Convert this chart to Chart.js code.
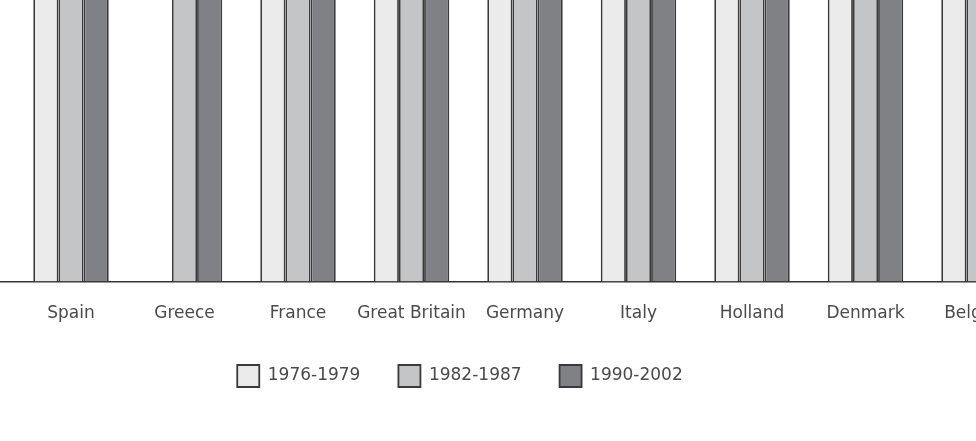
<!DOCTYPE html>
<html>
<head>
<meta charset="utf-8">
<script src="https://cdn.jsdelivr.net/npm/chart.js@4/dist/chart.umd.min.js"></script>
<style>
  html, body { margin: 0; padding: 0; background: #fff; overflow: hidden; }
  #wrap { position: absolute; left: -70px; top: 0; width: 1060px; height: 441px; }
</style>
</head>
<body>
<div id="wrap"><canvas id="chart" width="1060" height="441"></canvas></div>
<script>
// the picture is a crop: every bar runs past the top edge
const countries = ["Spain", "Greece", "France", "Great Britain", "Germany", "Italy", "Holland", "Denmark", "Belgium"];
const periods = ["1976-1979", "1982-1987", "1990-2002"];
const s1976 = [18, null, 17, 16, 18, 17, 16, 17, 16];
const s1982 = [19, 18, 18, 17, 19, 18, 17, 18, 17];
const s1990 = [20, 19, 19, 18, 20, 19, 18, 19, 18];
const yMax = 10;

const FILLS = ["#ebebeb", "#c4c5c7", "#808185"];
const EDGE = "#3a3a3a";
const TEXT = "#4a4a4a";
const FONT = "'DejaVu Sans', sans-serif";

const toPoints = (vals) => vals.map((v, i) => ({ x: i, y: v }));

new Chart(document.getElementById("chart"), {
  type: "bar",
  data: {
    datasets: [s1976, s1982, s1990].map((vals, k) => ({
      label: periods[k],
      data: toPoints(vals),
      backgroundColor: FILLS[k],
      borderColor: EDGE,
      borderWidth: 1.8,
      borderSkipped: "bottom",
      barPercentage: 1,
      categoryPercentage: 0.665,
    })),
  },
  options: {
    responsive: false,
    animation: false,
    layout: { padding: { top: 0, left: 0, right: 0, bottom: 44 } },
    scales: {
      x: {
        type: "linear",
        offset: false,
        min: -1.2423,
        max: 8.0969,
        grid: { display: false, drawTicks: false },
        border: { display: true, color: "#333", width: 1.5 },
        afterFit: (scale) => {
          scale.height -= 19;
          scale.paddingLeft = 0;
          scale.paddingRight = 0;
        },
        ticks: {
          stepSize: 1,
          includeBounds: false,
          autoSkip: false,
          maxRotation: 0,
          minRotation: 0,
          padding: 22,
          color: TEXT,
          font: { family: FONT, size: 17 },
          callback: (v) => (Number.isInteger(v) && countries[v]) || "",
        },
      },
      y: { display: false, min: 0, max: yMax },
    },
    plugins: {
      tooltip: { enabled: false },
      legend: {
        position: "bottom",
        labels: {
          color: TEXT,
          font: { family: FONT, size: 17 },
          boxWidth: 22,
          boxHeight: 22,
          padding: 38,
        },
      },
    },
  },
});
</script>
</body>
</html>
